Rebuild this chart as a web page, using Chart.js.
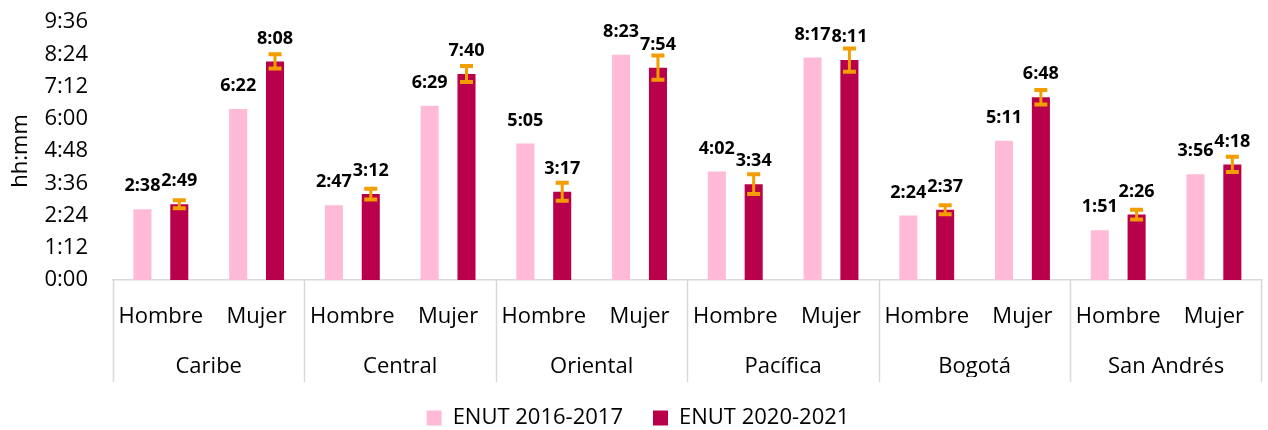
<!DOCTYPE html>
<html>
<head>
<meta charset="utf-8">
<script src="https://cdn.jsdelivr.net/npm/chart.js@4"></script>
<style>
html,body{margin:0;padding:0;background:#fff;}
#wrap{width:1268px;height:430px;}
</style>
</head>
<body>
<div id="wrap"><canvas id="c" width="1268" height="430"></canvas></div>
<script>
// Data (minutes)
const regions = ['Caribe', 'Central', 'Oriental', 'Pacífica', 'Bogotá', 'San Andrés'];
const sexes = ['Hombre', 'Mujer'];
const categories = ['Hombre','Mujer','Hombre','Mujer','Hombre','Mujer','Hombre','Mujer','Hombre','Mujer','Hombre','Mujer'];
const enut2016 = [158, 382, 167, 389, 305, 503, 242, 497, 144, 311, 111, 236];
const enut2020 = [169, 488, 192, 460, 197, 474, 214, 491, 157, 408, 146, 258];
const err2020 = [9, 16, 12, 18, 20, 27, 22, 26, 10, 16, 11, 17];
const yTicksMinutes = [0, 72, 144, 216, 288, 360, 432, 504, 576];

const FONT = "'Open Sans', 'Noto Sans', sans-serif";
const fmt = m => Math.floor(m / 60) + ':' + String(Math.round(m % 60)).padStart(2, '0');

const extrasPlugin = {
  id: 'extras',
  afterDatasetsDraw(chart) {
    const ctx = chart.ctx;
    const y = chart.scales.y;
    const meta1 = chart.getDatasetMeta(1);
    ctx.save();
    ctx.strokeStyle = '#F29D00';
    meta1.data.forEach((bar, i) => {
      const v = enut2020[i], e = err2020[i];
      const yt = y.getPixelForValue(v + e), yb = y.getPixelForValue(v - e);
      ctx.lineWidth = 3;
      ctx.beginPath();
      ctx.moveTo(bar.x, yt); ctx.lineTo(bar.x, yb);
      ctx.stroke();
      ctx.lineWidth = 4;
      ctx.beginPath();
      ctx.moveTo(bar.x - 6.5, yt); ctx.lineTo(bar.x + 6.5, yt);
      ctx.moveTo(bar.x - 6.5, yb); ctx.lineTo(bar.x + 6.5, yb);
      ctx.stroke();
    });
    ctx.fillStyle = '#000';
    ctx.font = "bold 18px " + FONT;
    ctx.textAlign = 'center';
    ctx.textBaseline = 'middle';
    [enut2016, enut2020].forEach((arr, d) => {
      chart.getDatasetMeta(d).data.forEach((bar, i) => {
        ctx.fillText(fmt(arr[i]), bar.x, bar.y - 23);
      });
    });
    ctx.restore();
  },
  afterDraw(chart) {
    const ctx = chart.ctx;
    const ca = chart.chartArea;
    ctx.save();
    ctx.strokeStyle = '#D9D9D9';
    ctx.lineWidth = 1.5;
    const catW = (ca.right - ca.left) / categories.length;
    for (let g = 0; g <= regions.length; g++) {
      let px = ca.left + g * 2 * catW;
      if (g === regions.length) px = ca.right - 1;
      ctx.beginPath();
      ctx.moveTo(Math.round(px) + 0.5, ca.bottom);
      ctx.lineTo(Math.round(px) + 0.5, ca.bottom + 102);
      ctx.stroke();
    }
    ctx.restore();
  }
};

new Chart(document.getElementById('c'), {
  type: 'bar',
  data: {
    labels: categories,
    datasets: [
      { label: 'ENUT 2016-2017', data: enut2016, backgroundColor: '#FFBAD7', borderWidth: 0,
        categoryPercentage: 0.77, barPercentage: 0.49 },
      { label: 'ENUT 2020-2021', data: enut2020, backgroundColor: '#B8004B', borderWidth: 0,
        categoryPercentage: 0.77, barPercentage: 0.49 }
    ]
  },
  options: {
    responsive: false,
    animation: false,
    layout: { padding: { left: 8, right: 0, top: 22, bottom: -9 } },
    plugins: {
      legend: {
        position: 'bottom',
        labels: { font: { family: FONT, size: 22 }, color: '#000', boxWidth: 15, boxHeight: 15, padding: 30 }
      },
      tooltip: { enabled: false }
    },
    scales: {
      y: {
        min: 0, max: 576,
        afterBuildTicks(scale) { scale.ticks = yTicksMinutes.map(v => ({ value: v })); },
        ticks: { callback: v => fmt(v), font: { family: FONT, size: 22 }, color: '#000', padding: 25 },
        grid: { display: false, drawTicks: false },
        border: { display: false },
        title: { display: true, text: 'hh:mm', font: { family: FONT, size: 22 }, color: '#000', padding: 0 },
        afterFit(scale) { scale.width = 105; scale.paddingTop = 0; scale.paddingBottom = 0; }
      },
      x: {
        ticks: { font: { family: FONT, size: 22 }, color: '#000', padding: 24, maxRotation: 0, autoSkip: false },
        grid: { display: false, drawTicks: false },
        border: { display: true, color: '#D9D9D9', width: 1.5 },
        afterFit(scale) { scale.height = 60; }
      },
      x2: {
        type: 'category',
        labels: regions,
        position: 'bottom',
        ticks: { font: { family: FONT, size: 22 }, color: '#000', padding: 14, maxRotation: 0, autoSkip: false },
        grid: { display: false, drawTicks: false },
        border: { display: false },
        afterFit(scale) { scale.height = 37; }
      }
    }
  },
  plugins: [extrasPlugin]
});
</script>
</body>
</html>
